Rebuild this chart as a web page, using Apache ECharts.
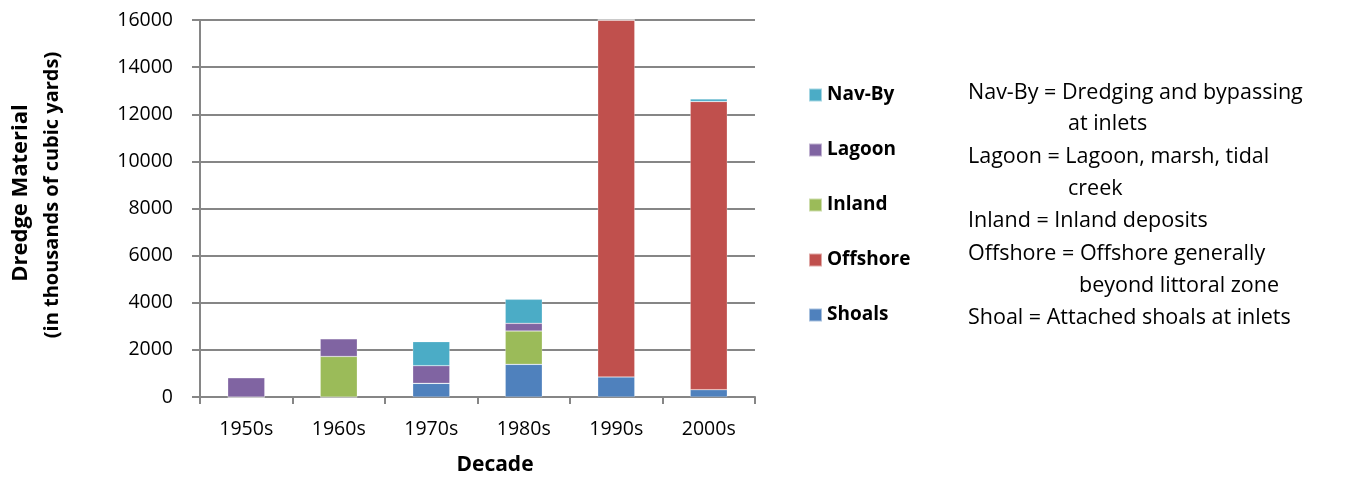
<!DOCTYPE html>
<html>
<head>
    <meta charset="utf-8">
    <title>Dredge Material</title>
    <script src="https://cdn.jsdelivr.net/npm/echarts@6/dist/echarts.min.js"></script>
    <style>
        body { margin: 0; background: #fff; }
        #main { width: 1353px; height: 477px; }
    </style>
</head>
<body>
    <div id="main"></div>
    <script type="text/javascript">
        // data (thousands of cubic yards)
        var decades = ['1950s', '1960s', '1970s', '1980s', '1990s', '2000s'];
        var shoals   = [0, 0, 580, 1385, 850, 310];
        var offshore = [0, 0, 0, 0, 15150, 12230];
        var inland   = [0, 1720, 0, 1415, 0, 0];
        var lagoon   = [820, 750, 750, 325, 0, 0];
        var navBy    = [0, 0, 1020, 1020, 0, 110];
        var yTicks   = [0, 2000, 4000, 6000, 8000, 10000, 12000, 14000, 16000];

        // the explanation text to the right of the legend
        var notes = [
            ['Nav-By = Dredging and bypassing', 968, 93],
            ['at inlets', 1068, 124],
            ['Lagoon = Lagoon, marsh, tidal', 968, 157],
            ['creek', 1068, 189],
            ['Inland = Inland deposits', 968, 221],
            ['Offshore = Offshore generally', 968, 254],
            ['beyond littoral zone', 1079, 286],
            ['Shoal = Attached shoals at inlets', 968, 318]
        ];

        var font = '"Open Sans", sans-serif';
        var gray = '#868686';
        var myChart = echarts.init(document.getElementById('main'));

        function bar(name, data, color) {
            return {
                name: name, type: 'bar', stack: 'total', data: data,
                barWidth: '40%',
                itemStyle: { color: color, borderColor: 'rgba(255,255,255,0.5)', borderWidth: 0.5 }
            };
        }

        var graphics = notes.map(function (n) {
            return {
                type: 'text', x: n[1], y: n[2],
                style: { text: n[0], font: '21.5px ' + font, fill: '#000', textVerticalAlign: 'middle' }
            };
        });
        graphics.push({
            type: 'text', x: 21, y: 193, rotation: Math.PI / 2,
            style: { text: 'Dredge Material', font: 'bold 22px ' + font, fill: '#000',
                     textAlign: 'center', textVerticalAlign: 'middle' }
        });
        graphics.push({
            type: 'text', x: 52, y: 195, rotation: Math.PI / 2,
            style: { text: '(in thousands of cubic yards)', font: 'bold 20px ' + font, fill: '#000',
                     textAlign: 'center', textVerticalAlign: 'middle' }
        });
        graphics.push({
            type: 'text', x: 495, y: 465,
            style: { text: 'Decade', font: 'bold 21px ' + font, fill: '#000',
                     textAlign: 'center', textVerticalAlign: 'middle' }
        });

        myChart.setOption({
            animation: false,
            backgroundColor: '#fff',
            grid: { left: 200, right: 598, top: 20, bottom: 80 },
            legend: {
                orient: 'vertical', left: 808, top: 84, padding: 0,
                data: ['Nav-By', 'Lagoon', 'Inland', 'Offshore', 'Shoals'],
                icon: 'rect', itemWidth: 13, itemHeight: 13, itemGap: 33,
                textStyle: { fontFamily: font, fontWeight: 'bold', fontSize: 19, color: '#000', lineHeight: 22 }
            },
            xAxis: {
                type: 'category', data: decades,
                axisLine: { lineStyle: { color: gray, width: 2 } },
                axisTick: { show: true, length: 7, lineStyle: { color: gray, width: 2 } },
                axisLabel: { fontFamily: font, fontSize: 19.5, color: '#000', margin: 22 }
            },
            yAxis: {
                type: 'value', min: yTicks[0], max: yTicks[yTicks.length - 1], interval: 2000,
                axisLine: { show: true, lineStyle: { color: gray, width: 2 } },
                axisTick: { show: true, length: 8, lineStyle: { color: gray, width: 2 } },
                axisLabel: { fontFamily: font, fontSize: 19.5, color: '#000', margin: 27,
                             formatter: function (v) { return String(v); } },
                splitLine: { lineStyle: { color: gray, width: 2 } }
            },
            graphic: graphics,
            series: [
                bar('Shoals', shoals, '#4F81BD'),
                bar('Offshore', offshore, '#C0504D'),
                bar('Inland', inland, '#9BBB59'),
                bar('Lagoon', lagoon, '#8064A2'),
                bar('Nav-By', navBy, '#4BACC6')
            ]
        });
    </script>
</body>
</html>
